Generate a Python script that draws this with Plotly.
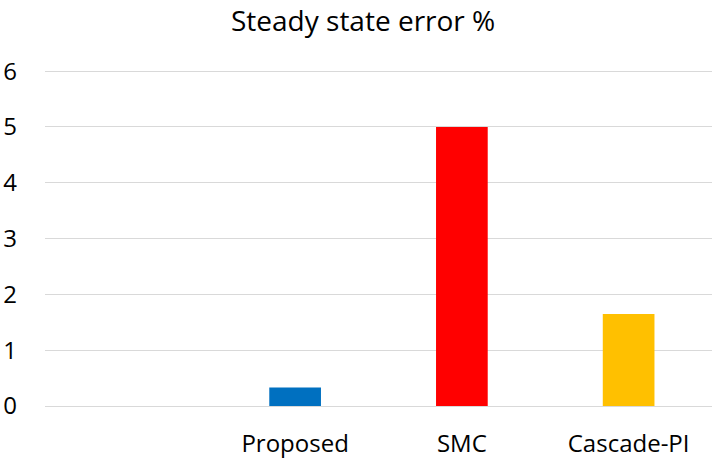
import plotly.graph_objects as go

categories = [" ", "Proposed", "SMC", "Cascade-PI"]
values = [None, 0.33, 5.0, 1.65]
colors = ["#0070C0", "#0070C0", "#FF0000", "#FFC000"]
y_ticks = [0, 1, 2, 3, 4, 5, 6]

fig = go.Figure(go.Bar(x=categories, y=values, marker=dict(color=colors, line=dict(width=0)), width=0.31))

fig.update_layout(
    width=712, height=462,
    margin=dict(l=45, r=0, t=70, b=56),
    paper_bgcolor="white", plot_bgcolor="white",
    font=dict(family="Open Sans, sans-serif", color="#000000", size=24),
    title=dict(text="Steady state error %", x=0.51, xanchor="center", yref="container", y=0.955, yanchor="middle",
               font=dict(size=28, color="#000000")),
    showlegend=False,
    bargap=0.69,
)
fig.update_yaxes(range=[0, 6.02], tickvals=y_ticks, showgrid=True, gridcolor="#D9D9D9", gridwidth=1,
                 zeroline=False, showline=False, ticklabelstandoff=27, fixedrange=True)
fig.update_xaxes(type="category", showline=True, linecolor="#D9D9D9", linewidth=1, showgrid=False,
                 ticklabelstandoff=16, fixedrange=True)

fig.write_html("out.html")
